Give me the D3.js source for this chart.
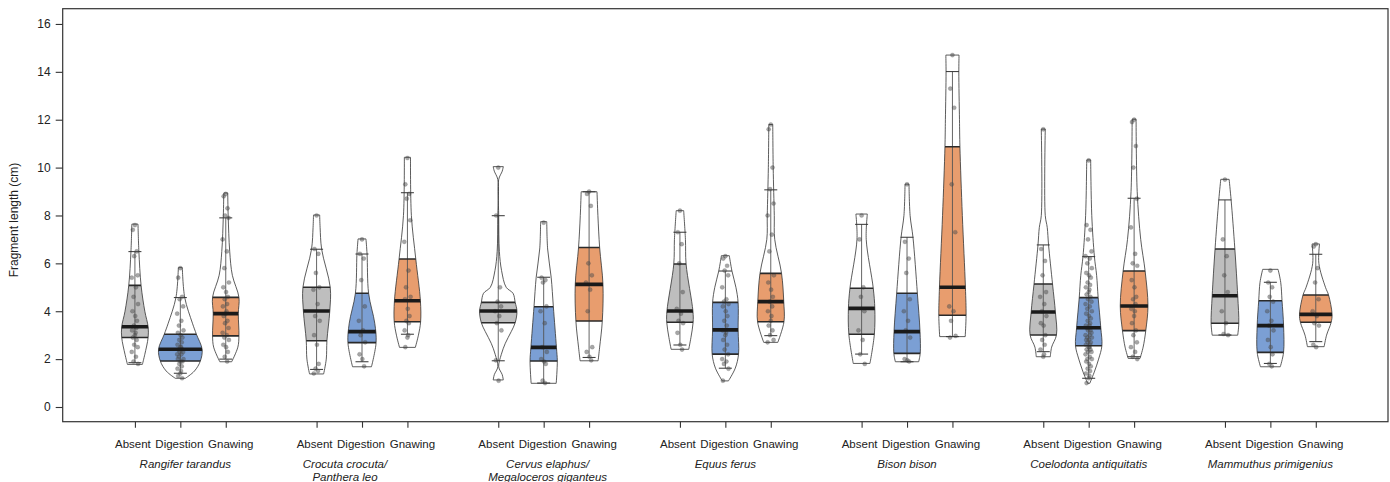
<!DOCTYPE html>
<html><head><meta charset="utf-8">
<script src="https://cdn.jsdelivr.net/npm/d3@7"></script>
<style>
body{margin:0;background:#fff}
svg{display:block}
text{font-family:"Liberation Sans",Arial,Helvetica,sans-serif;fill:#222}
</style>
</head><body>
<svg id="c" width="1390" height="482"></svg>
<script>
// ---------------- data ----------------
const species = [["Rangifer tarandus"],["Crocuta crocuta/","Panthera leo"],["Cervus elaphus/","Megaloceros giganteus"],["Equus ferus"],["Bison bison"],["Coelodonta antiquitatis"],["Mammuthus primigenius"]];
const conditions = ["Absent","Digestion","Gnawing"];
const yTicks = [0,2,4,6,8,10,12,14,16];

// per violin (species x condition): [lower whisker, Q1, median, Q3, upper whisker]
const boxStats = [
 [1.85,2.90,3.35,5.08,6.49],[1.41,1.92,2.41,3.04,4.57],[2.00,2.97,3.90,4.58,7.90],
 [1.57,2.77,4.01,5.00,6.59],[1.89,2.69,3.15,4.75,6.39],[3.04,3.56,4.44,6.18,8.95],
 [1.93,3.52,4.01,4.37,7.99],[1.00,1.92,2.49,4.19,5.42],[2.07,3.59,5.12,6.66,8.99],
 [2.59,3.54,4.01,5.97,7.30],[1.62,2.21,3.22,4.37,5.68],[2.98,3.56,4.40,5.58,9.07],
 [2.21,3.04,4.12,4.96,7.63],[1.89,2.24,3.15,4.75,7.09],[2.94,3.83,5.00,10.87,14.01],
 [2.31,3.01,3.97,5.14,6.77],[1.20,2.56,3.31,4.57,6.28],[2.10,3.19,4.22,5.68,8.72],
 [3.01,3.50,4.65,6.60,8.65],[1.82,2.28,3.40,4.44,5.21],[2.73,3.54,3.87,4.68,6.38]
];

// kernel density outline per violin: [value, relative density]
const violinProfiles = [
 [[7.64,.14],[6.5,.18],[5.08,.28],[4.0,.45],[3.35,.60],[2.9,.60],[2.2,.45],[1.78,.34]],
 [[5.82,.09],[4.57,.20],[3.5,.55],[3.04,.73],[2.41,.99],[1.92,.91],[1.5,.64],[1.2,.23]],
 [[8.94,.09],[8.0,.11],[6.5,.18],[5.5,.30],[4.58,.60],[3.9,.57],[2.97,.60],[2.5,.55],[1.89,.27]],
 [[8.02,.14],[7.5,.16],[6.59,.23],[5.0,.62],[4.01,.60],[2.77,.47],[2.0,.44],[1.38,.32]],
 [[7.02,.18],[6.39,.23],[4.75,.30],[3.5,.58],[2.69,.64],[1.68,.43]],
 [[10.43,.14],[8.0,.18],[6.18,.38],[4.44,.59],[3.56,.60],[3.0,.50],[2.49,.36]],
 [[10.04,.23],[9.85,.18],[9.5,.02],[8.0,.02],[6.5,.05],[5.7,.15],[5.0,.36],[4.75,.67],[4.37,.77],[4.0,.85],[3.52,.77],[3.15,.59],[2.66,.32],[2.2,.14],[1.68,.02],[1.35,.18],[1.13,.23]],
 [[7.74,.14],[6.6,.18],[5.42,.34],[4.19,.44],[2.49,.58],[1.92,.62],[0.99,.57]],
 [[8.99,.36],[8.0,.40],[6.66,.48],[5.12,.63],[3.59,.60],[2.5,.48],[1.93,.41]],
 [[8.2,.17],[7.0,.25],[5.97,.28],[4.01,.59],[3.54,.60],[2.9,.50],[2.41,.40]],
 [[6.32,.18],[5.68,.30],[5.0,.48],[4.37,.58],[3.22,.58],[2.21,.60],[1.62,.45],[1.09,.14]],
 [[11.8,.09],[10.0,.11],[8.0,.16],[7.0,.18],[5.58,.49],[4.40,.59],[3.56,.60],[2.7,.32]],
 [[8.06,.26],[7.0,.21],[4.96,.53],[4.12,.60],[3.04,.58],[1.82,.38]],
 [[9.31,.09],[8.0,.14],[7.09,.27],[4.75,.47],[3.15,.59],[2.24,.60],[1.89,.53]],
 [[14.7,.30],[14.0,.29],[12.0,.32],[10.87,.34],[8.0,.45],[5.0,.59],[3.83,.62],[2.94,.58]],
 [[11.61,.09],[8.0,.09],[7.5,.18],[6.77,.24],[5.14,.42],[3.97,.55],[3.01,.60],[2.5,.38],[2.1,.32]],
 [[10.32,.09],[8.0,.14],[6.28,.26],[5.5,.36],[4.57,.43],[3.31,.55],[2.56,.60],[2.0,.45],[1.5,.27],[0.99,.05]],
 [[12.02,.09],[9.0,.14],[7.0,.30],[5.68,.50],[4.22,.63],[3.19,.53],[2.5,.41],[2.03,.27]],
 [[9.51,.19],[8.65,.28],[6.6,.45],[4.65,.58],[3.5,.63],[3.0,.58]],
 [[5.75,.35],[5.21,.47],[4.44,.53],[3.40,.60],[2.28,.60],[1.68,.45]],
 [[6.81,.17],[6.0,.14],[5.0,.44],[4.68,.58],[3.87,.74],[3.54,.70],[3.0,.49],[2.52,.38]]
];

// individual fragment lengths (cm)
const pointValues = [
 [7.6,7.4,6.5,6.3,5.5,5.4,5.0,4.6,4.3,4.0,3.8,3.6,3.4,3.3,3.2,3.1,3.0,2.9,2.8,2.6,2.5,2.3,2.1,1.9,1.8],
 [5.8,5.4,4.6,4.5,4.2,3.9,3.6,3.4,3.2,3.1,3.0,2.9,2.8,2.7,2.6,2.5,2.5,2.4,2.4,2.3,2.3,2.2,2.2,2.1,2.0,2.0,1.9,1.9,1.8,1.7,1.6,1.5,1.4,1.3,1.2],
 [8.9,8.8,8.3,8.0,7.9,7.0,6.5,5.8,5.2,5.0,4.8,4.6,4.5,4.3,4.2,4.0,3.9,3.8,3.6,3.5,3.3,3.1,3.0,2.9,2.8,2.6,2.5,2.3,2.1,1.9],
 [8.0,6.6,6.4,5.6,5.0,4.9,4.3,3.8,3.6,3.0,2.6,1.8,1.6,1.5,1.4],
 [7.0,6.4,6.2,5.3,4.2,3.6,3.2,3.0,2.7,2.2,2.0,1.7],
 [10.4,9.3,8.9,8.7,7.8,6.9,5.7,5.0,4.6,4.5,4.1,3.8,3.6,3.5,3.2,3.0,2.9,2.5],
 [10.0,8.0,5.0,4.4,4.2,4.0,3.8,3.5,3.2,1.95,1.1],
 [7.7,5.4,5.3,5.2,4.2,4.0,3.5,2.5,2.3,2.0,1.9,1.8,1.1,1.0],
 [9.0,8.9,8.4,6.0,5.5,5.2,4.9,4.0,2.5,2.3,2.1,1.95],
 [8.2,7.3,6.8,6.0,4.8,4.1,3.9,3.6,3.5,3.1,2.6,2.4],
 [6.3,6.2,5.9,5.7,5.5,5.0,4.5,4.4,4.3,4.2,4.0,3.8,3.6,3.4,3.2,3.1,3.0,2.8,2.6,2.4,2.2,2.0,1.9,1.8,1.6,1.1],
 [11.8,11.6,10.0,9.1,8.5,8.0,7.2,6.5,5.5,5.2,4.9,4.6,4.4,4.2,4.0,3.8,3.6,3.4,3.2,3.0,2.8,2.7],
 [8.0,7.0,5.0,4.6,4.0,3.2,2.8,2.2,1.8],
 [9.3,6.9,6.2,5.6,4.5,4.0,3.6,3.2,2.9,2.0,1.95,1.9],
 [14.7,13.3,12.5,9.3,7.3,4.2,4.0,3.6,2.97,2.9],
 [11.6,6.6,6.1,5.5,4.8,4.6,4.3,4.0,3.8,3.5,3.4,3.0,2.8,2.6,2.4,2.2,2.1],
 [10.3,7.6,7.4,7.0,6.5,6.3,6.2,6.0,5.8,5.6,5.5,5.4,5.2,5.1,5.0,4.9,4.8,4.7,4.6,4.5,4.4,4.3,4.2,4.1,4.0,3.9,3.8,3.7,3.6,3.5,3.4,3.4,3.3,3.3,3.2,3.2,3.1,3.0,3.0,2.9,2.9,2.8,2.8,2.7,2.7,2.6,2.6,2.5,2.5,2.4,2.4,2.3,2.3,2.2,2.1,2.0,2.0,1.9,1.8,1.7,1.6,1.5,1.4,1.3,1.2,1.0],
 [12.0,11.9,10.9,10.0,8.7,7.5,6.4,6.0,5.9,5.3,5.0,4.6,4.5,4.3,4.1,4.0,3.8,3.5,3.2,3.0,2.7,2.5,2.3,2.1,2.0],
 [9.5,7.0,6.3,5.5,4.8,4.0,3.5,3.05,3.0],
 [5.7,5.2,5.0,4.6,4.4,4.0,3.6,3.4,3.2,2.8,2.5,2.2,1.8,1.7],
 [6.8,6.7,5.8,5.2,4.5,4.0,3.8,3.5,3.4,2.6,2.5]
];

// ---------------- drawing ----------------
const fills = ["#BEBEBE","#7B9FD4","#E89D6E"];
const jitter = [0,-0.6,0.5,-0.2,0.8,-0.9,0.3,-0.4,0.9,-0.7,0.1,0.6,-0.3,0.4,-0.8,0.2];

const svg = d3.select("#c");
svg.append("rect").attr("width",1390).attr("height",482).attr("fill","#fff");

const L = 62.7, R = 1388, T = 8.7, B = 421.7;
const x = d3.scaleLinear().domain([-0.59, 28.59]).range([L, R]);
const y = d3.scaleLinear().domain([-0.614, 16.637]).range([B, T]);
const w = d3.scaleLinear().domain([0, 1]).range([0, 22]);
const posOf = i => 4 * Math.floor(i / 3) + (i % 3) + 1;

const defs = svg.append("defs");
const plot = svg.append("g");

boxStats.forEach((st, i) => {
  const cx = x(posOf(i));
  const [wl, q1, med, q3, wh] = st;
  const prof = violinProfiles[i];
  const area = d3.area()
      .y(d => y(d[0]))
      .x0(d => cx - w(d[1]))
      .x1(d => cx + w(d[1]))
      .curve(d3.curveCatmullRom.alpha(0.5));
  const dPath = area(prof);
  defs.append("clipPath").attr("id", "v" + i).append("path").attr("d", dPath);
  const g = plot.append("g");
  // IQR filled part of the violin
  g.append("rect").attr("x", cx - 40).attr("width", 80)
    .attr("y", y(q3)).attr("height", y(q1) - y(q3))
    .attr("fill", fills[i % 3]).attr("clip-path", `url(#v${i})`);
  // whisker line + caps
  g.append("line").attr("x1", cx).attr("x2", cx).attr("y1", y(wl)).attr("y2", y(wh))
    .attr("stroke", "#555").attr("stroke-width", 0.9);
  [wl, wh].forEach(v => g.append("line").attr("x1", cx - 6.5).attr("x2", cx + 6.5)
    .attr("y1", y(v)).attr("y2", y(v)).attr("stroke", "#333").attr("stroke-width", 1));
  // points
  pointValues[i].forEach((v, k) => {
    g.append("circle").attr("cx", cx + jitter[k % jitter.length] * 3.5).attr("cy", y(v))
      .attr("r", 2.1).attr("fill", "rgba(80,80,80,0.5)").attr("stroke", "rgba(70,70,70,0.35)").attr("stroke-width", 0.5);
  });
  // violin outline
  g.append("path").attr("d", dPath).attr("fill", "none").attr("stroke", "#333").attr("stroke-width", 0.8);
  // quartile lines
  [q1, q3].forEach(v => g.append("line").attr("x1", cx - 40).attr("x2", cx + 40)
    .attr("y1", y(v)).attr("y2", y(v)).attr("stroke", "#2a2a2a").attr("stroke-width", 1.6)
    .attr("clip-path", `url(#v${i})`));
  // median
  g.append("line").attr("x1", cx - 40).attr("x2", cx + 40)
    .attr("y1", y(med)).attr("y2", y(med)).attr("stroke", "#1a1a1a").attr("stroke-width", 3.6)
    .attr("clip-path", `url(#v${i})`);
});

// frame
svg.append("rect").attr("x", L).attr("y", T).attr("width", R - L).attr("height", B - T)
  .attr("fill", "none").attr("stroke", "#333").attr("stroke-width", 1.2);

// y axis
const ya = svg.append("g").attr("transform", `translate(${L},0)`)
  .call(d3.axisLeft(y).tickValues(yTicks).tickSize(7).tickPadding(5));
ya.select(".domain").remove();
ya.selectAll(".tick line").attr("stroke", "#333").attr("stroke-width", 1.1);
ya.selectAll("text").attr("font-family", '"Liberation Sans",Arial,sans-serif').attr("font-size", 12).attr("fill", "#222");

svg.append("text").attr("transform", "translate(18,220) rotate(-90)").attr("text-anchor", "middle")
  .attr("font-size", 12).text("Fragment length (cm)");

// x axis
const positions = d3.range(21).map(posOf);
const xa = svg.append("g").attr("transform", `translate(0,${B})`)
  .call(d3.axisBottom(x).tickValues(positions).tickSize(6).tickFormat(""));
xa.select(".domain").remove();
xa.selectAll(".tick line").attr("stroke", "#333").attr("stroke-width", 1.1);

const condShift = [-2, -1, 5];
positions.forEach((p, i) => {
  svg.append("text").attr("x", x(p) + condShift[i % 3]).attr("y", 448).attr("text-anchor", "middle")
    .attr("font-size", 11.5).text(conditions[i % 3]);
});
const spShift = [5, -17, 4, 0, 0, 0, 0];
species.forEach((lines, g) => {
  const cx = x(4 * g + 2) + spShift[g];
  lines.forEach((t, k) => svg.append("text").attr("x", cx).attr("y", 468 + k * 13)
    .attr("text-anchor", "middle").attr("font-size", 11.5).attr("font-style", "italic").text(t));
});
</script>
</body></html>
